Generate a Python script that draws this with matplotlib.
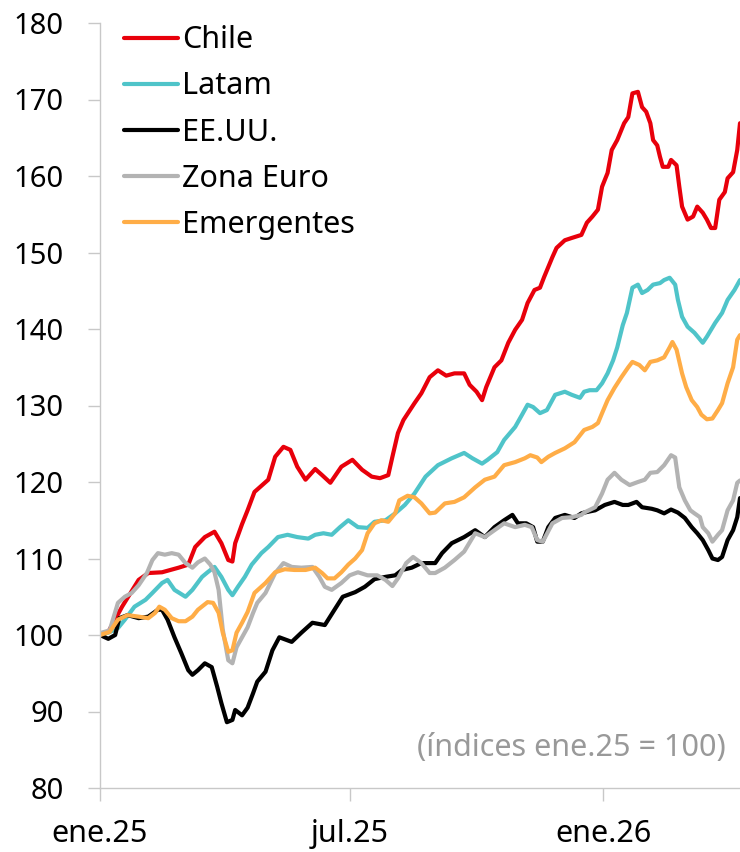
import numpy as np
import matplotlib
matplotlib.use("Agg")
import matplotlib.pyplot as plt

plt.rcParams['font.family'] = ['Noto Sans', 'DejaVu Sans']

# days since 2025-01-01, values (index ene.25 = 100)
chile_days = [0,6,16,28,35,45,57,64,69,76,83,88,93,96,98,103,107,112,122,127,133,138,143,149,156,161,167,175,183,190,197,203,209,212,216,220,228,233,239,245,251,257,264,268,273,277,280,286,291,296,301,306,310,315,319,322,325,328,331,337,342,349,353,357,361,364,368,371,375,380,383,386,390,393,396,399,401,404,406,408,412,414,418,420,422,426,430,433,437,440,443,446,449,453,455,459,462,464]
chile_vals = [100,100.4,103.7,107.2,108.1,108.2,108.8,109.2,111.5,112.8,113.5,112,109.8,109.6,112,114.5,116.3,118.7,120.3,123.3,124.6,124.2,122,120.3,121.7,120.9,119.9,122,122.9,121.6,120.7,120.5,120.9,123.3,126.4,128.1,130.3,131.6,133.7,134.6,133.9,134.2,134.2,132.7,131.8,130.7,132.4,135,135.9,138.2,139.9,141.2,143.4,145.1,145.4,146.8,148.1,149.4,150.6,151.6,151.9,152.3,153.9,154.7,155.6,158.6,160.4,163.4,164.7,166.9,167.7,170.8,171,169,168.4,166.9,164.7,164,162.5,161.2,161.2,162.1,161.4,158.6,156,154.3,154.7,156,155.2,154.3,153.2,153.2,156.9,157.9,159.7,160.5,163.4,166.9]

latam_days = [0,6,13,18,25,33,38,45,49,54,62,67,74,78,83,88,93,96,100,105,110,117,122,129,136,143,151,156,162,168,174,180,187,194,199,207,214,221,228,236,245,255,264,270,277,281,288,293,301,306,310,314,319,324,330,337,342,348,351,355,360,364,368,372,375,379,382,386,390,393,397,401,406,409,413,417,419,422,426,431,437,440,446,451,455,460,464]
latam_vals = [100,100.3,100.9,102,103.7,104.6,105.5,106.8,107.2,105.9,105,105.9,107.6,108.2,108.9,107.6,105.9,105.2,106.3,107.6,109.2,110.7,111.5,112.8,113.1,112.8,112.6,113.1,113.3,113.1,114.1,115,114.1,114,114.8,115,115.9,117,118.5,120.7,122.2,123.1,123.8,123.1,122.4,122.9,123.9,125.5,127.2,128.8,130.1,129.8,129,129.4,131.4,131.8,131.4,131,131.8,132,132,132.9,134.2,135.9,137.6,140.5,142.1,145.4,145.8,144.7,145.1,145.8,146,146.4,146.7,145.8,143.8,141.6,140.3,139.5,138.2,139,140.8,142.1,143.8,145.1,146.4]

eeuu_days = [0,6,11,14,20,28,35,42,45,49,54,59,64,67,71,76,81,85,88,92,96,98,103,107,111,114,120,125,130,139,146,154,163,170,176,185,192,199,207,214,219,226,233,236,243,248,255,264,272,279,286,293,299,303,309,314,317,321,325,330,337,344,349,351,359,366,373,379,383,389,393,400,404,409,414,419,424,429,433,437,441,444,448,451,455,459,462,464]
eeuu_vals = [100,99.5,100,102.2,102.6,102.2,102.4,103.3,103.3,102,99.7,97.6,95.4,94.8,95.4,96.3,95.8,93.2,91.1,88.6,88.9,90.2,89.5,90.5,92.4,93.9,95.2,98,99.7,99.1,100.3,101.6,101.3,103.3,105,105.6,106.3,107.3,107.6,107.8,108.5,108.8,109.4,109.4,109.4,110.7,112,112.8,113.7,112.8,114.1,115,115.7,114.6,114.6,114.1,112.2,112.2,114.1,115.3,115.7,115.3,115.9,116,116.3,117,117.4,117,117,117.4,116.7,116.5,116.3,115.9,116.4,116,115.3,114.1,113.3,112.4,111.1,110,109.8,110.2,112.4,113.7,115.4,117.9]

euro_days = [0,1,7,13,18,23,28,34,38,42,47,52,57,62,67,71,76,80,83,86,89,93,96,99,103,107,111,114,120,127,133,139,146,154,159,163,168,175,181,187,194,201,207,212,216,222,227,233,239,243,250,257,264,272,279,286,293,301,308,313,317,321,328,335,342,349,351,359,364,368,373,378,384,390,395,399,404,409,414,417,420,424,428,431,435,437,441,444,448,451,455,459,462,464]
euro_vals = [100,100.3,100.6,104.2,105,105.5,106.5,108.1,109.8,110.7,110.5,110.7,110.5,109.4,108.8,109.5,110,109.2,108.2,105.9,100.7,96.7,96.3,98.4,99.7,101,102.9,104.2,105.5,108.1,109.4,108.9,108.8,108.9,107.6,106.3,105.9,106.8,107.8,108.2,107.8,107.8,107.2,106.4,107.4,109.4,110.2,109.4,108.1,108.1,108.8,109.8,110.9,113.3,112.8,113.7,114.6,114.1,114.4,114.1,112.4,112.2,114.6,115.3,115.4,115.7,116,116.7,118.5,120.3,121.2,120.3,119.6,120,120.3,121.2,121.3,122.2,123.5,123.2,119.3,117.6,116.3,115.9,115.4,114.1,113.3,112.2,113.1,113.7,116.3,117.6,119.9,120.2]

emerg_days = [0,7,13,20,28,35,40,43,47,52,57,62,67,71,78,82,86,89,93,96,99,103,107,112,120,127,134,141,149,156,161,165,170,175,180,185,190,194,199,204,209,214,217,223,228,233,239,243,250,257,264,272,279,286,293,301,308,312,317,320,325,330,337,344,351,357,361,364,368,373,378,383,386,391,395,399,404,409,413,415,418,422,425,429,433,436,440,444,448,451,455,459,462,464]
emerg_vals = [100,100.4,102,102.6,102.4,102.2,102.9,103.7,103.3,102.2,101.8,101.8,102.4,103.3,104.3,104.2,102.9,100.3,97.8,98,100.3,101.6,103,105.5,106.8,108.2,108.6,108.5,108.5,108.8,108.1,107.4,107.4,108.2,109.2,110,111.1,113.3,114.6,115,114.8,115.9,117.6,118.2,118,117.2,115.9,116,117.2,117.4,118,119.3,120.3,120.7,122.2,122.6,123.1,123.5,123.2,122.6,123.3,123.8,124.4,125.2,126.8,127.2,127.7,129,130.7,132.3,133.7,135,135.7,135.3,134.6,135.7,135.9,136.3,137.6,138.3,137.3,134.2,132.4,130.7,129.8,128.8,128.2,128.3,129.4,130.3,132.9,135,138.6,139.2]

series_names = ["Chile", "Latam", "EE.UU.", "Zona Euro", "Emergentes"]
series_days = [chile_days, latam_days, eeuu_days, euro_days, emerg_days]
series_vals = [chile_vals, latam_vals, eeuu_vals, euro_vals, emerg_vals]
series_colors = ["#e8000b", "#4fc4c9", "#000000", "#b3b3b3", "#ffad47"]

xtick_dates = ["2025-01-01", "2025-07-01", "2026-01-01"]
xtick_labels = ["ene.25", "jul.25", "ene.26"]
yticks = [80, 90, 100, 110, 120, 130, 140, 150, 160, 170, 180]
note = "(índices ene.25 = 100)"

base = np.datetime64("2025-01-01")

fig = plt.figure(figsize=(7.4, 8.52), dpi=100)
ax = fig.add_axes([100/740, 1-788/852, 640/740, 765/852])

for name, d, v, c in zip(series_names, series_days, series_vals, series_colors):
    dates = base + np.array(d).astype("timedelta64[D]")
    ax.plot(dates, v, color=c, lw=3.0, label=name, solid_joinstyle="round", solid_capstyle="round")

ax.set_ylim(80, 180)
ax.set_xlim(base, base + np.timedelta64(464, "D"))
ax.set_yticks(yticks)
ax.set_yticklabels([str(t) for t in yticks])
ax.set_xticks([np.datetime64(d) for d in xtick_dates])
ax.set_xticklabels(xtick_labels)

for s in ["top", "right"]:
    ax.spines[s].set_visible(False)
for s in ["left", "bottom"]:
    ax.spines[s].set_color("#c8c8c8")
    ax.spines[s].set_linewidth(1.0)

ax.tick_params(axis="y", length=9, width=1.0, color="#c8c8c8", pad=17, labelsize=21, labelcolor="black")
ax.tick_params(axis="x", length=9, width=1.0, color="#c8c8c8", pad=13, labelsize=22, labelcolor="black")

leg = ax.legend(loc="upper left", bbox_to_anchor=(0.038, 0.997), frameon=False, fontsize=22,
                handlelength=1.76, handletextpad=0.12, labelspacing=0.53, borderpad=0, borderaxespad=0)
for line in leg.get_lines():
    line.set_linewidth(3.0)

ax.text(0.977, 0.052, note, transform=ax.transAxes, ha="right", va="center", fontsize=22, color="#999999")

fig.savefig("out.png", dpi=100)
